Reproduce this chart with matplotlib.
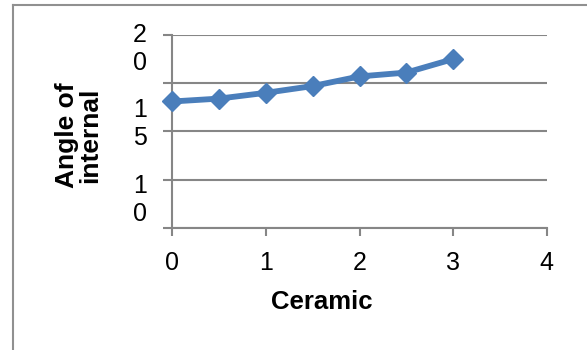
import matplotlib
matplotlib.use("Agg")
from matplotlib import pyplot
from matplotlib.lines import Line2D

# ceramic content vs angle of internal friction
ceramic = [0, 0.5, 1, 1.5, 2, 2.5, 3]
angle = [13.1, 13.4, 14.0, 14.7, 15.7, 16.1, 17.5]

x_ticks = [0, 1, 2, 3, 4]
y_ticks = [0, 5, 10, 15, 20]
# the value labels on the y axis come out wrapped one digit per line
y_labels = ["2\n0", "1\n5", "1\n0"]

W, H = 587, 350
BLUE = "#4a7ebb"
GREY = "#868686"

pyplot.rcParams["font.family"] = ["Liberation Sans", "DejaVu Sans"]

fig = pyplot.figure(figsize=(W / 100, H / 100), dpi=100)

# chart area frame (only top and left edges show)
fig.add_artist(Line2D([13 / W, 1], [1 - 5 / H, 1 - 5 / H], color="#909090", lw=1.5))
fig.add_artist(Line2D([13 / W, 13 / W], [0, 1 - 5 / H], color="#909090", lw=1.5))

left, right = 172.3 / W, 546.7 / W
bottom, top = 1 - 227.7 / H, 1 - 35 / H
ax = fig.add_axes([left, bottom, right - left, top - bottom])

ax.plot(ceramic, angle, color=BLUE, lw=4.2, marker="D", markersize=10,
        markerfacecolor=BLUE, markeredgecolor=BLUE, clip_on=False, zorder=3)

ax.set_xlim(0, 4)
ax.set_ylim(0, 20)
ax.set_xticks(x_ticks)
ax.set_yticks(y_ticks)
ax.set_yticklabels([])
ax.set_xticklabels([str(t) for t in x_ticks], fontsize=18)

for s in ["top", "right"]:
    ax.spines[s].set_visible(False)
for s in ["left", "bottom"]:
    ax.spines[s].set_color(GREY)
    ax.spines[s].set_linewidth(1.5)

ax.yaxis.grid(True, color=GREY, lw=1.5)
ax.tick_params(axis="y", length=6.5, width=1.5, color=GREY, direction="out")
ax.tick_params(axis="x", length=5.8, width=1.5, color=GREY, direction="out", pad=11)

for lab, yc in zip(y_labels, [49, 124, 200]):
    fig.text(140 / W, 1 - yc / H, lab, fontsize=18, ha="center", va="center",
             linespacing=1.25)

fig.text(322 / W, 1 - 302 / H, "Ceramic", fontsize=18.5, fontweight="bold",
         ha="center", va="center")
fig.text(79 / W, 1 - 135 / H, "Angle of\ninternal", fontsize=19, fontweight="bold",
         ha="center", va="center", rotation=90, linespacing=0.95)

fig.savefig("out.png", dpi=100)
